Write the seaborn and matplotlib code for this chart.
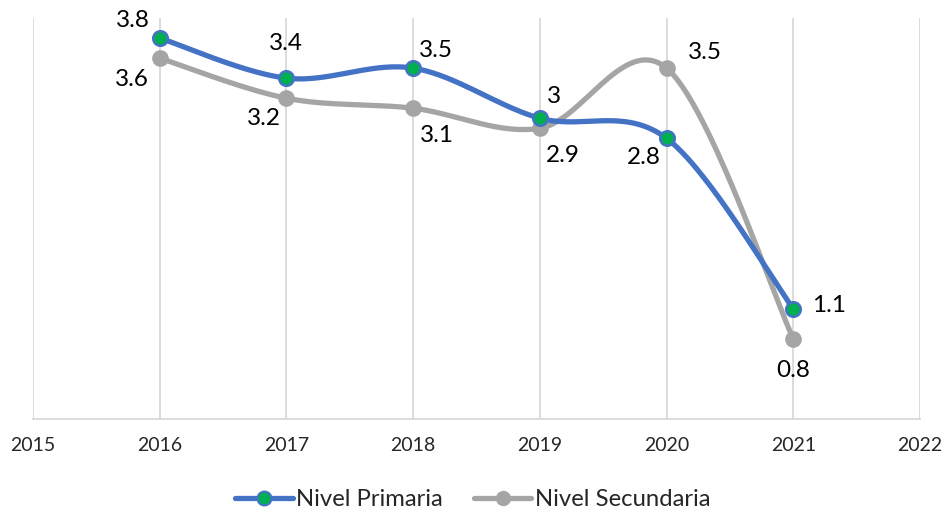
import numpy as np
import pandas as pd
import matplotlib
matplotlib.use("Agg")
import matplotlib.pyplot as plt
import seaborn as sns
from matplotlib.lines import Line2D

# datos
years = [2016, 2017, 2018, 2019, 2020, 2021]
primaria = [3.8, 3.4, 3.5, 3.0, 2.8, 1.1]
secundaria = [3.6, 3.2, 3.1, 2.9, 3.5, 0.8]
labels_prim = ["3.8", "3.4", "3.5", "3", "2.8", "1.1"]
labels_sec = ["3.6", "3.2", "3.1", "2.9", "3.5", "0.8"]

# desplazamiento de etiquetas (pixeles)
off_prim = [(-27, 18), (0, 35), (23, 18), (14, 22), (-23, -19), (36, 3)]
off_sec = [(-28, -21), (-22, -20), (24, -27), (23, -27), (38, 16), (0, -32)]

BLUE = "#4472C4"
GRAY = "#A5A5A5"
GREEN = "#00B050"


def smooth(xs, ys, n=60):
    # curva suavizada tipo Excel (Bezier con tangentes Catmull-Rom)
    p = np.column_stack([xs, ys]).astype(float)
    out = []
    for i in range(len(p) - 1):
        p0 = p[max(i - 1, 0)]
        p1 = p[i]
        p2 = p[i + 1]
        p3 = p[min(i + 2, len(p) - 1)]
        c1 = p1 + (p2 - p0) / 6
        c2 = p2 - (p3 - p1) / 6
        t = np.linspace(0, 1, n)[:, None]
        seg = ((1 - t) ** 3) * p1 + 3 * ((1 - t) ** 2) * t * c1 + 3 * (1 - t) * t ** 2 * c2 + t ** 3 * p2
        out.append(seg if i == 0 else seg[1:])
    seg = np.vstack(out)
    return seg[:, 0], seg[:, 1]


sns.set_style("white")
plt.rcParams["font.family"] = ["Lato", "DejaVu Sans"]

fig = plt.figure(figsize=(9.46, 5.14), dpi=100)
ax = fig.add_axes([33 / 946, (514 - 419) / 514, (920 - 33) / 946, (419 - 18) / 514])

for vals, col in [(secundaria, GRAY), (primaria, BLUE)]:
    sx, sy = smooth(years, vals)
    curve = pd.DataFrame({"x": sx, "y": sy})
    sns.lineplot(data=curve, x="x", y="y", sort=False, color=col, lw=3.8, ax=ax,
                 solid_capstyle="round", zorder=2)

df_sec = pd.DataFrame({"anio": years, "valor": secundaria})
df_prim = pd.DataFrame({"anio": years, "valor": primaria})
sns.scatterplot(data=df_sec, x="anio", y="valor", s=110, color=GRAY, edgecolor=GRAY,
                linewidth=1.5, ax=ax, zorder=3)
sns.scatterplot(data=df_prim, x="anio", y="valor", s=110, color=GREEN, edgecolor=BLUE,
                linewidth=1.8, ax=ax, zorder=4)

for x, y, t, o in zip(years, primaria, labels_prim, off_prim):
    ax.annotate(t, (x, y), xytext=o, textcoords="offset pixels", ha="center", va="center",
                fontsize=17.5, color="black")
for x, y, t, o in zip(years, secundaria, labels_sec, off_sec):
    ax.annotate(t, (x, y), xytext=o, textcoords="offset pixels", ha="center", va="center",
                fontsize=17.5, color="black")

ax.set_xlim(2015, 2022)
ax.set_ylim(0, 4)
ax.set_xticks(range(2015, 2023))
ax.set_yticks([])
ax.set_xlabel("")
ax.set_ylabel("")
ax.grid(axis="x", color="#D9D9D9", lw=1.3)
ax.set_axisbelow(True)
for s in ["top", "left", "right"]:
    ax.spines[s].set_visible(False)
ax.spines["bottom"].set_color("#D9D9D9")
ax.spines["bottom"].set_linewidth(1.3)
ax.tick_params(axis="x", length=0, pad=13, labelsize=14)

handles = [
    Line2D([], [], color=BLUE, lw=3.8, marker="o", markersize=10, markerfacecolor=GREEN,
           markeredgecolor=BLUE, markeredgewidth=1.5),
    Line2D([], [], color=GRAY, lw=3.8, marker="o", markersize=10, markerfacecolor=GRAY,
           markeredgecolor=GRAY),
]
fig.legend(handles, ["Nivel Primaria", "Nivel Secundaria"], loc="center",
           bbox_to_anchor=(0.5, 14 / 514), ncol=2, frameon=False, fontsize=17.2,
           handlelength=2.4, handletextpad=0.15, columnspacing=1.3)

fig.savefig("out.png", dpi=100)
